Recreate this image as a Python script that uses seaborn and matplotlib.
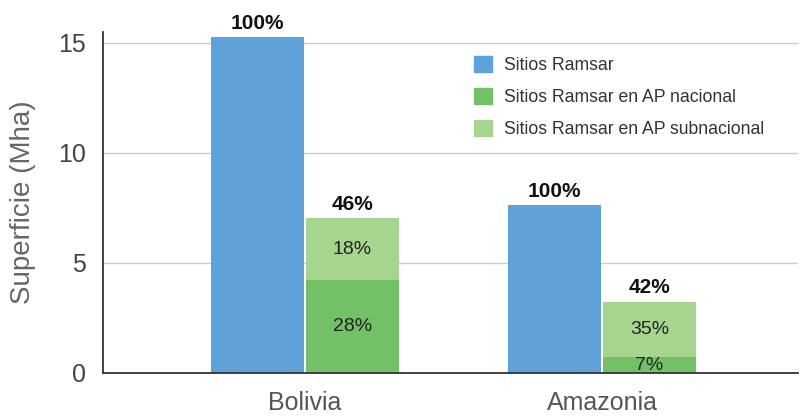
import pandas as pd
import matplotlib
matplotlib.use('Agg')
import matplotlib.pyplot as plt
import seaborn as sns

# Data (Mha)
regiones = ['Bolivia', 'Amazonia']
sitios_ramsar = [15.27, 7.62]
ap_nacional = [4.21, 0.70]
ap_subnacional = [2.81, 2.53]

etiq_total = ['100%', '100%']
etiq_ap = ['46%', '42%']
etiq_nacional = ['28%', '7%']
etiq_subnacional = ['18%', '35%']

series = ['Sitios Ramsar', 'Sitios Ramsar en AP nacional', 'Sitios Ramsar en AP subnacional']
colores = ['#5fa2d9', '#72c167', '#a6d58f']

sns.set_theme(style='white')
plt.rcParams['font.family'] = ['Liberation Sans', 'DejaVu Sans']

# total of AP bar (nacional + subnacional) is drawn first, nacional on top
ap_total = [n + s for n, s in zip(ap_nacional, ap_subnacional)]
df_back = pd.DataFrame({
    'region': regiones * 2,
    'serie': ['ramsar'] * 2 + ['ap'] * 2,
    'valor': sitios_ramsar + ap_total,
})
df_nac = pd.DataFrame({
    'region': regiones,
    'serie': ['ap'] * 2,
    'valor': ap_nacional,
})

fig = plt.figure(figsize=(8.02, 4.16), dpi=100)
ax = fig.add_axes([103 / 802, 1 - 372.7 / 416, 695 / 802, 340.7 / 416])

sns.barplot(data=df_back, x='region', y='valor', hue='serie', hue_order=['ramsar', 'ap'],
            palette=[colores[0], colores[2]], dodge=True, width=0.64, gap=0.03,
            order=regiones, ax=ax, legend=False, saturation=1)
sns.barplot(data=df_nac, x='region', y='valor', hue='serie', hue_order=['ramsar', 'ap'],
            palette=[colores[0], colores[1]], dodge=True, width=0.64, gap=0.03,
            order=regiones, ax=ax, legend=False, saturation=1)

# containers: 0 ramsar, 1 ap total, last nacional
conts = [c for c in ax.containers if len(c) > 0]
ramsar_c, total_c, nac_c = conts[0], conts[1], conts[-1]
for b in list(ramsar_c) + list(total_c) + list(nac_c):
    b.set_edgecolor('none')

ax.bar_label(ramsar_c, labels=etiq_total, padding=3, fontsize=15, fontweight='bold', color='#111111')
ax.bar_label(total_c, labels=etiq_ap, padding=3, fontsize=15, fontweight='bold', color='#111111')
ax.bar_label(nac_c, labels=etiq_nacional, label_type='center', fontsize=14, color='#222222')

# subnacional labels centred in the light segment
for b, lab, n in zip(total_c, etiq_subnacional, ap_nacional):
    ax.text(b.get_x() + b.get_width() / 2, (b.get_height() + n) / 2, lab,
            ha='center', va='center', fontsize=14, color='#222222')

ax.set_xlim(-0.68, 1.66)
ax.set_ylim(0, 15.49)
ax.set_yticks([0, 5, 10, 15])
ax.yaxis.grid(True, color='#cccccc', linewidth=1)
ax.set_axisbelow(True)
ax.tick_params(axis='y', length=0, pad=12, labelsize=18, labelcolor='#444444')
ax.tick_params(axis='x', length=0, pad=13, labelsize=18, labelcolor='#555555')
ax.set_xlabel('')
ax.set_ylabel('Superficie (Mha)', fontsize=20, color='#666666')
ax.yaxis.set_label_coords(-(103 - 36) / 695, 0.5)

for s in ['top', 'right']:
    ax.spines[s].set_visible(False)
for s in ['left', 'bottom']:
    ax.spines[s].set_color('#333333')
    ax.spines[s].set_linewidth(1.3)

handles = [plt.Rectangle((0, 0), 1, 1, color=c) for c in colores]
ax.legend(handles, series, loc='upper left', bbox_to_anchor=(474 / 802, 1 - 56 / 416),
          bbox_transform=fig.transFigure, frameon=False, fontsize=12.7,
          handlelength=1.0, handleheight=1.0, handletextpad=0.7, labelspacing=0.8,
          borderpad=0, borderaxespad=0, labelcolor='#333333')

fig.savefig('out.png', dpi=100)
